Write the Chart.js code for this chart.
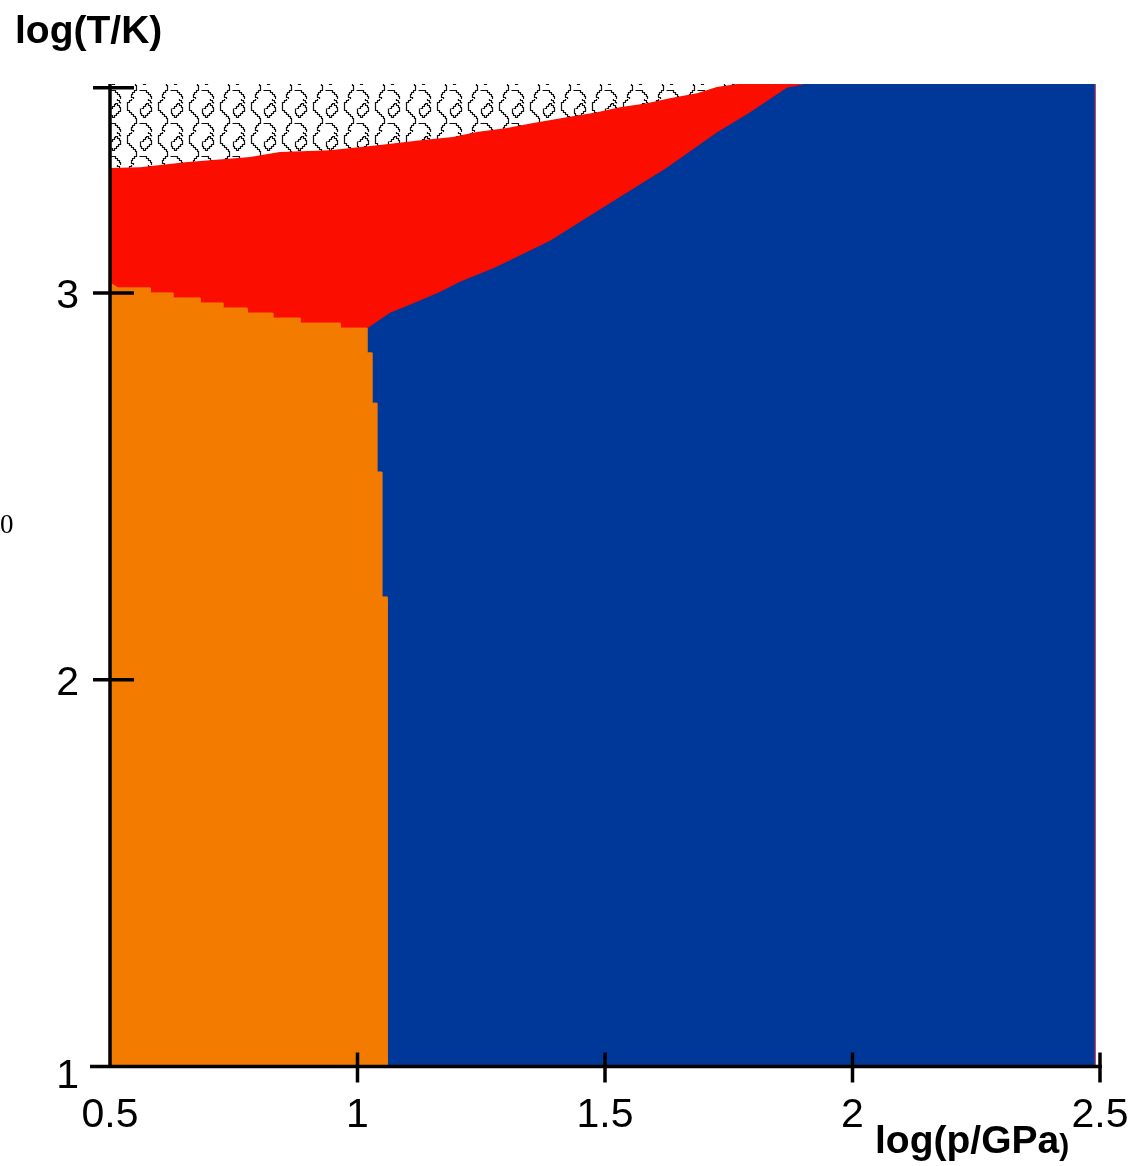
<!DOCTYPE html>
<html>
<head>
<meta charset="utf-8">
<script src="https://cdn.jsdelivr.net/npm/chart.js@4.4.1/dist/chart.umd.min.js"></script>
<style>
  html, body { margin: 0; padding: 0; background: #fff; }
  canvas { display: block; }
</style>
</head>
<body>
<canvas id="chart" width="1136" height="1166"></canvas>
<script>
// axis ranges and ticks
const xMin = 0.5, xMax = 2.5;
const yMin = 1, yMax = 3.54;
const xTickVals = [0.5, 1, 1.5, 2, 2.5];
const xTickLabels = ['0.5', '1', '1.5', '2', '2.5'];
const yTickVals = [1, 2, 3];
const yTickLabels = ['1', '2', '3'];
const yTopMark = 3.53;

// phase boundaries (log p, log T)
const orangeRedX = [0.500, 0.516, 0.581, 0.581, 0.627, 0.627, 0.682, 0.682, 0.728, 0.728, 0.777, 0.777, 0.829, 0.829, 0.884, 0.884, 0.965, 0.965, 1.019];
const orangeRedY = [3.026, 3.013, 3.013, 3.000, 3.000, 2.987, 2.987, 2.974, 2.974, 2.961, 2.961, 2.948, 2.948, 2.935, 2.935, 2.922, 2.922, 2.909, 2.909];

const orangeBlueX = [1.019, 1.029, 1.029, 1.039, 1.039, 1.049, 1.049, 1.060, 1.060];
const orangeBlueY = [2.845, 2.845, 2.715, 2.715, 2.537, 2.537, 2.214, 2.214, 1.000];

const redBlueX = [1.066, 1.116, 1.167, 1.207, 1.278, 1.389, 1.496, 1.625, 1.726, 1.793, 1.868, 1.900];
const redBlueY = [2.950, 2.976, 3.004, 3.030, 3.067, 3.136, 3.222, 3.325, 3.416, 3.468, 3.532, 3.540];

const hatchRedX = [0.500, 0.561, 0.652, 0.783, 0.843, 0.944, 1.045, 1.132, 1.193, 1.241, 1.302, 1.355, 1.423, 1.484, 1.530, 1.585, 1.631, 1.686, 1.726, 1.767];
const hatchRedY = [3.323, 3.325, 3.338, 3.351, 3.364, 3.369, 3.382, 3.395, 3.403, 3.416, 3.426, 3.439, 3.454, 3.467, 3.480, 3.490, 3.503, 3.516, 3.532, 3.540];

const blueEdgeX = 2.49;

const zip = (xs, ys) => xs.map((x, i) => ({x, y: ys[i]}));

// hatch tile: black stair-step loops on white
function makeHatch(){
  const c = document.createElement('canvas');
  c.width = 31; c.height = 33;
  const g = c.getContext('2d');
  g.fillStyle = '#fff'; g.fillRect(0, 0, 31, 33);
  g.strokeStyle = '#111'; g.lineWidth = 1.2;
  const stair = (pts) => {
    g.beginPath();
    let [x, y] = pts[0];
    g.moveTo(x + 0.5, y + 0.5);
    for (let i = 1; i < pts.length; i++){
      const [tx, ty] = pts[i];
      while (x !== tx || y !== ty){
        if (x !== tx){ x += Math.sign(tx - x) * Math.min(2, Math.abs(tx - x)); g.lineTo(x + 0.5, y + 0.5); }
        if (y !== ty){ y += Math.sign(ty - y) * Math.min(2, Math.abs(ty - y)); g.lineTo(x + 0.5, y + 0.5); }
      }
    }
    g.stroke();
  };
  stair([[9,-1],[3,5],[3,11],[12,20],[12,24],[7,29],[7,31],[9,34]]);
  stair([[17,9],[22,4],[27,9],[27,12],[21,18],[16,13],[16,9]]);
  stair([[15,24],[20,24],[27,31],[27,34]]);
  stair([[18,-1],[22,-1],[27,4]]);
  return g.createPattern(c, 'repeat');
}

const axesPlugin = {
  id: 'axes',
  afterDraw(chart){
    const {ctx, chartArea} = chart;
    const xs = chart.scales.x, ys = chart.scales.y;
    const x0 = xs.getPixelForValue(xMin), yB = ys.getPixelForValue(yMin);
    ctx.save();
    ctx.strokeStyle = '#000'; ctx.lineWidth = 3.5;
    ctx.beginPath();
    ctx.moveTo(x0, chartArea.top); ctx.lineTo(x0, yB);
    ctx.moveTo(x0 - 20, yB); ctx.lineTo(xs.getPixelForValue(xMax) + 2, yB);
    [2, 3, yTopMark].forEach(v => {
      const p = ys.getPixelForValue(v);
      ctx.moveTo(x0 - 17, p); ctx.lineTo(x0 + 24, p);
    });
    xTickVals.slice(1).forEach(v => {
      const p = xs.getPixelForValue(v);
      ctx.moveTo(p, yB - 14); ctx.lineTo(p, yB + 16);
    });
    ctx.stroke();

    ctx.fillStyle = '#000';
    ctx.font = '41px "Liberation Sans", Arial, sans-serif';
    ctx.textBaseline = 'alphabetic';
    ctx.textAlign = 'center';
    xTickVals.forEach((v, i) => ctx.fillText(xTickLabels[i], xs.getPixelForValue(v), yB + 60));
    ctx.textAlign = 'right';
    yTickVals.forEach((v, i) => {
      const dy = v === yMin ? 21 : 15;
      ctx.fillText(yTickLabels[i], x0 - 31, ys.getPixelForValue(v) + dy);
    });

    ctx.textAlign = 'left';
    ctx.font = 'bold 39px "Liberation Sans", Arial, sans-serif';
    ctx.fillText('log(T/K)', 15, 43);
    ctx.fillText('log(p/GPa', 875, 1153);
    const w = ctx.measureText('log(p/GPa').width;
    ctx.font = 'bold 30px "Liberation Sans", Arial, sans-serif';
    ctx.fillText(')', 875 + w, 1155);

    ctx.font = '27px "Liberation Serif", "Times New Roman", serif';
    ctx.fillText('0', 0, 533);
    ctx.restore();
  }
};

new Chart(document.getElementById('chart'), {
  type: 'line',
  data: {
    datasets: [
      { // edge of the blue field
        data: [{x: blueEdgeX, y: yMin}, {x: blueEdgeX, y: yMax}],
        borderColor: '#8a2a5e', borderWidth: 1.5, fill: false, order: 0
      },
      { // hatched region
        data: zip(hatchRedX, hatchRedY),
        borderColor: 'rgba(0,0,0,0)', borderWidth: 1,
        backgroundColor: makeHatch(), fill: 'end', order: 1
      },
      { // orange region
        data: zip(orangeRedX, orangeRedY).concat(zip(orangeBlueX, orangeBlueY)),
        borderColor: '#f27b00', borderWidth: 1,
        backgroundColor: '#f27b00', fill: 'start', order: 2
      },
      { // red region
        data: zip(orangeRedX, orangeRedY).concat(zip(redBlueX, redBlueY)),
        borderColor: '#fb0d00', borderWidth: 1,
        backgroundColor: '#fb0d00', fill: 'end', order: 3
      },
      { // blue region
        data: [{x: xMin, y: yMax}, {x: blueEdgeX, y: yMax}],
        borderColor: '#003899', borderWidth: 1,
        backgroundColor: '#003899', fill: 'start', order: 4
      }
    ]
  },
  options: {
    responsive: false,
    animation: false,
    events: [],
    layout: { padding: { left: 110, right: 36, top: 84, bottom: 99.5 } },
    elements: { point: { radius: 0 }, line: { tension: 0 } },
    plugins: { legend: { display: false }, tooltip: { enabled: false } },
    scales: {
      x: { type: 'linear', min: xMin, max: xMax, display: false },
      y: { type: 'linear', min: yMin, max: yMax, display: false }
    }
  },
  plugins: [axesPlugin]
});
</script>
</body>
</html>
